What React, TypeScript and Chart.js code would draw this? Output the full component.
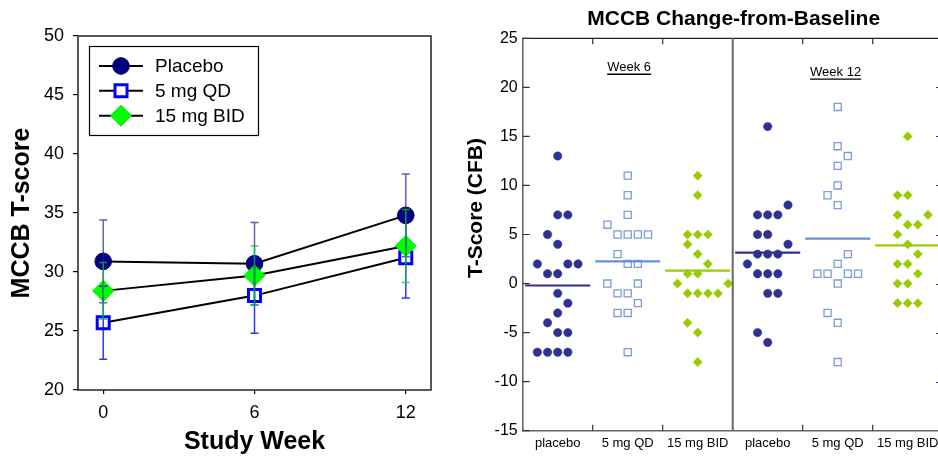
import React, { useEffect, useRef } from "react";
import { Chart, registerables } from "chart.js";

Chart.register(...registerables);
Chart.defaults.font.family = "'Liberation Sans', Arial, Helvetica, sans-serif";

// ---------- Left panel: mean T-score by study week ----------
const weeks = [0, 6, 12];
const weekTicks = [0, 6, 12];
const seriesNames = ["Placebo", "5 mg QD", "15 mg BID"];
const placeboMean = [30.9, 30.7, 34.8];
const placeboErr = [3.5, 3.5, 3.5];
const qdMean = [25.7, 28.0, 31.2];
const qdErr = [3.1, 3.2, 3.4];
const bidMean = [28.4, 29.7, 32.2];
const bidErr = [2.4, 2.5, 3.1];

// ---------- Right panel: individual change-from-baseline ----------
const rightTitle = "MCCB Change-from-Baseline";
const rightYTitle = "T-Score (CFB)";
const groupLabels = ["placebo", "5 mg QD", "15 mg BID", "placebo", "5 mg QD", "15 mg BID"];
const weekLabels = ["Week 6", "Week 12"];
const cfbTicks = [-15, -10, -5, 0, 5, 10, 15, 20, 25];

const w6Placebo = [13, 7, 7, 5, 4, 2, 2, 2, 1, 1, -1, -2, -3, -4, -5, -5, -7, -7, -7, -7];
const w6PlaceboSlot = [0, 0, 1, -1, 0, -2, 1, 2, -1, 0, 0, 1, 0, -1, 0, 1, -2, -1, 0, 1];
const w6QD = [11, 9, 7, 6, 5, 5, 5, 5, 3, 2, 2, 0, 0, -1, -1, -2, -3, -3, -7];
const w6QDSlot = [0, 0, 0, -2, -1, 0, 1, 2, -1, 0, 1, -2, 1, -1, 0, 1, -1, 0, 0];
const w6BID = [11, 9, 5, 5, 5, 4, 3, 2, 1, 1, 0, 0, -1, -1, -1, -1, -4, -5, -8];
const w6BIDSlot = [0, 0, -1, 0, 1, -1, 0, 1, -1, 0, -2, 3, -1, 0, 1, 2, -1, 0, 0];
const w12Placebo = [16, 8, 7, 7, 7, 5, 5, 4, 3, 3, 3, 2, 1, 1, 1, -1, -1, -5, -6];
const w12PlaceboSlot = [0, 2, -1, 0, 1, -1, 0, 2, -1, 0, 1, -2, -1, 0, 1, 0, 1, -1, 0];
const w12QD = [18, 14, 13, 12, 10, 9, 8, 3, 2, 1, 1, 1, 1, 0, -3, -4, -8];
const w12QDSlot = [0, 0, 1, 0, 0, -1, 0, 1, 0, -2, -1, 1, 2, 0, -1, 0, 0];
const w12BID = [15, 9, 9, 7, 7, 6, 6, 5, 4, 3, 2, 2, 1, 0, 0, -2, -2, -2];
const w12BIDSlot = [0, -1, 0, -1, 2, 0, 1, -1, 0, 1, -1, 0, 1, -1, 0, -1, 0, 1];

const SLOT_STEP = 0.145;
const MEAN_HALF = 0.465;

const avg = (a: number[]) => a.reduce((s, v) => s + v, 0) / a.length;

// ---------- plugins ----------
const errorBarPlugin = {
  id: "errorBars",
  afterDatasetsDraw(chart: any) {
    const { ctx, scales } = chart;
    const x = scales.x, y = scales.y;
    ctx.save();
    chart.data.datasets.forEach((ds: any) => {
      ctx.strokeStyle = ds.errColor;
      ctx.lineWidth = 1.5;
      ds.data.forEach((p: any, i: number) => {
        const e = ds.errors[i];
        const px = x.getPixelForValue(p.x);
        const top = y.getPixelForValue(p.y + e);
        const bot = y.getPixelForValue(p.y - e);
        ctx.beginPath();
        ctx.moveTo(px, top); ctx.lineTo(px, bot);
        ctx.moveTo(px - 4, top); ctx.lineTo(px + 4, top);
        ctx.moveTo(px - 4, bot); ctx.lineTo(px + 4, bot);
        ctx.stroke();
      });
    });
    ctx.restore();
  },
};

function drawMarker(ctx: CanvasRenderingContext2D, ds: any, cx: number, cy: number) {
  const r = ds.pointRadius;
  ctx.fillStyle = ds.pointBackgroundColor;
  ctx.strokeStyle = ds.pointBorderColor;
  ctx.lineWidth = ds.pointBorderWidth;
  ctx.beginPath();
  if (ds.pointStyle === "circle") {
    ctx.arc(cx, cy, r, 0, Math.PI * 2);
  } else if (ds.pointStyle === "rect") {
    const s = r * Math.SQRT1_2;
    ctx.rect(cx - s, cy - s, 2 * s, 2 * s);
  } else {
    ctx.moveTo(cx, cy - r); ctx.lineTo(cx + r, cy); ctx.lineTo(cx, cy + r); ctx.lineTo(cx - r, cy); ctx.closePath();
  }
  ctx.fill();
  ctx.stroke();
}

const leftDecorPlugin = {
  id: "leftDecor",
  afterDraw(chart: any) {
    const { ctx, chartArea: ca } = chart;
    ctx.save();
    ctx.strokeStyle = "#222";
    ctx.lineWidth = 1.5;
    ctx.strokeRect(ca.left, ca.top, ca.right - ca.left, ca.bottom - ca.top);
    // legend
    const bx = 89.5, by = 46.5, bw = 169, bh = 89;
    ctx.fillStyle = "#fff";
    ctx.fillRect(bx, by, bw, bh);
    ctx.strokeStyle = "#000";
    ctx.lineWidth = 1.2;
    ctx.strokeRect(bx, by, bw, bh);
    const rows = [66, 90.7, 115.7];
    chart.data.datasets.forEach((ds: any, i: number) => {
      const ry = rows[i];
      ctx.strokeStyle = "#000";
      ctx.lineWidth = 2;
      ctx.beginPath();
      ctx.moveTo(99, ry); ctx.lineTo(143, ry);
      ctx.stroke();
      drawMarker(ctx, ds, 121, ry);
      ctx.fillStyle = "#000";
      ctx.font = "19px 'Liberation Sans', Arial, sans-serif";
      ctx.textAlign = "left";
      ctx.textBaseline = "middle";
      ctx.fillText(ds.label, 155, ry + 1);
    });
    ctx.restore();
  },
};

const rightDecorPlugin = {
  id: "rightDecor",
  afterDraw(chart: any) {
    const { ctx, chartArea: ca, scales } = chart;
    const x = scales.x, y = scales.y;
    ctx.save();
    // top border
    ctx.strokeStyle = "#222";
    ctx.lineWidth = 1.2;
    ctx.beginPath();
    ctx.moveTo(ca.left, ca.top); ctx.lineTo(ca.right, ca.top);
    ctx.stroke();
    // week separator
    const sx = x.getPixelForValue(2.5);
    ctx.strokeStyle = "#666";
    ctx.lineWidth = 2;
    ctx.beginPath();
    ctx.moveTo(sx, ca.top); ctx.lineTo(sx, ca.bottom);
    ctx.stroke();
    // inward category ticks
    ctx.strokeStyle = "#333";
    ctx.lineWidth = 1.2;
    ctx.beginPath();
    [0.5, 1.5, 3.5, 4.5].forEach((b) => {
      const px = x.getPixelForValue(b);
      ctx.moveTo(px, ca.top); ctx.lineTo(px, ca.top + 6);
      ctx.moveTo(px, ca.bottom); ctx.lineTo(px, ca.bottom - 6);
    });
    // inward y ticks
    y.ticks.forEach((t: any) => {
      const py = y.getPixelForValue(t.value);
      ctx.moveTo(ca.left, py); ctx.lineTo(ca.left + 7, py);
    });
    ctx.stroke();
    // next-panel tick stubs at right edge
    ctx.strokeStyle = "#3030c0";
    ctx.lineWidth = 1;
    ctx.beginPath();
    [20, 15, 10, 5, 0, -5, -10].forEach((v) => {
      const py = Math.round(y.getPixelForValue(v)) + 0.5;
      ctx.moveTo(481, py); ctx.lineTo(484, py);
    });
    ctx.stroke();
    // week labels
    ctx.fillStyle = "#000";
    ctx.font = "13px 'Liberation Sans', Arial, sans-serif";
    ctx.textAlign = "center";
    ctx.textBaseline = "middle";
    const wl = [
      { t: weekLabels[0], xv: 1.02, yv: 22 },
      { t: weekLabels[1], xv: 3.97, yv: 21.5 },
    ];
    wl.forEach((w) => {
      const px = x.getPixelForValue(w.xv);
      const py = y.getPixelForValue(w.yv);
      ctx.fillText(w.t, px, py);
      const tw = ctx.measureText(w.t).width;
      ctx.strokeStyle = "#000";
      ctx.lineWidth = 1.3;
      ctx.beginPath();
      ctx.moveTo(px - tw / 2, py + 6.5); ctx.lineTo(px + tw / 2, py + 6.5);
      ctx.stroke();
    });
    // chart title
    ctx.font = "bold 21px 'Liberation Sans', Arial, sans-serif";
    ctx.fillText(rightTitle, 278.7, 19);
    // y title
    ctx.save();
    ctx.translate(21, 208);
    ctx.rotate(-Math.PI / 2);
    ctx.font = "bold 21px 'Liberation Sans', Arial, sans-serif";
    ctx.fillText(rightYTitle, 0, 0);
    ctx.restore();
    ctx.restore();
  },
};

export default function App() {
  const leftRef = useRef<HTMLCanvasElement>(null);
  const rightRef = useRef<HTMLCanvasElement>(null);

  useEffect(() => {
    const mk = (means: number[]) => means.map((m, i) => ({ x: weeks[i], y: m }));
    const left = new Chart(leftRef.current as HTMLCanvasElement, {
      type: "line",
      data: {
        datasets: [
          {
            label: seriesNames[0], data: mk(placeboMean), errors: placeboErr, errColor: "rgba(30,30,150,0.7)",
            borderColor: "#000", borderWidth: 2, pointStyle: "circle", pointRadius: 8.3,
            pointBackgroundColor: "#000080", pointBorderColor: "#00005a", pointBorderWidth: 1, order: 1,
          },
          {
            label: seriesNames[1], data: mk(qdMean), errors: qdErr, errColor: "rgba(0,0,255,0.8)",
            borderColor: "#000", borderWidth: 2, pointStyle: "rect", pointRadius: 8.5,
            pointBackgroundColor: "#ffffff", pointBorderColor: "#0000ff", pointBorderWidth: 3, order: 2,
          },
          {
            label: seriesNames[2], data: mk(bidMean), errors: bidErr, errColor: "rgba(0,200,40,0.75)",
            borderColor: "#000", borderWidth: 2, pointStyle: "rectRot", pointRadius: 10.5,
            pointBackgroundColor: "#00ff00", pointBorderColor: "#00e000", pointBorderWidth: 1, order: 0,
          },
        ] as any,
      },
      options: {
        responsive: false,
        animation: false,
        layout: { padding: { left: 0, right: 39, top: 36, bottom: 0 } },
        plugins: { legend: { display: false }, tooltip: { enabled: false } },
        scales: {
          x: {
            type: "linear", min: -1, max: 13,
            afterBuildTicks: (s: any) => { s.ticks = weekTicks.map((v) => ({ value: v })); },
            afterFit: (s: any) => { s.height = 67; },
            ticks: { font: { size: 18 }, color: "#000", padding: 8, autoSkip: false, maxRotation: 0 },
            grid: { display: true, drawOnChartArea: false, drawTicks: true, tickLength: 4, color: "#000", lineWidth: 1.2 },
            border: { display: false },
            title: { display: true, text: "Study Week", color: "#000", font: { size: 25, weight: "bold" }, padding: { top: 0, bottom: 0 } },
          },
          y: {
            type: "linear", min: 20, max: 50,
            afterFit: (s: any) => { s.width = 78; },
            ticks: { stepSize: 5, font: { size: 18 }, color: "#000", padding: 9 },
            grid: { display: true, drawOnChartArea: false, drawTicks: true, tickLength: 5, color: "#000", lineWidth: 1.2 },
            border: { display: false },
            title: { display: true, text: "MCCB T-score", color: "#000", font: { size: 25, weight: "bold" }, padding: { top: 7, bottom: 0 } },
          },
        },
      } as any,
      plugins: [errorBarPlugin, leftDecorPlugin],
    });

    const groups = [
      { v: w6Placebo, s: w6PlaceboSlot, k: 0 },
      { v: w6QD, s: w6QDSlot, k: 1 },
      { v: w6BID, s: w6BIDSlot, k: 2 },
      { v: w12Placebo, s: w12PlaceboSlot, k: 0 },
      { v: w12QD, s: w12QDSlot, k: 1 },
      { v: w12BID, s: w12BIDSlot, k: 2 },
    ];
    const pointStyles = [
      { pointStyle: "circle", pointRadius: 4.2, pointBackgroundColor: "#2e3192", pointBorderColor: "#2e3192", pointBorderWidth: 0.5 },
      { pointStyle: "rect", pointRadius: 5, pointBackgroundColor: "rgba(255,255,255,0)", pointBorderColor: "#7b9bd9", pointBorderWidth: 1.3 },
      { pointStyle: "rectRot", pointRadius: 4.6, pointBackgroundColor: "#99cc00", pointBorderColor: "#99cc00", pointBorderWidth: 0.5 },
    ];
    const meanColors = ["#2e3192", "#6690d6", "#99cc00"];
    const datasets: any[] = [];
    groups.forEach((g, gi) => {
      datasets.push({
        label: groupLabels[gi],
        data: g.v.map((val, j) => ({ x: gi + g.s[j] * SLOT_STEP, y: val })),
        showLine: false,
        ...pointStyles[g.k],
        order: 1,
      });
      const m = avg(g.v);
      datasets.push({
        label: groupLabels[gi] + " mean",
        data: [{ x: gi - MEAN_HALF, y: m }, { x: gi + MEAN_HALF, y: m }],
        showLine: true,
        borderColor: meanColors[g.k],
        borderWidth: 2.2,
        pointRadius: 0,
        order: 0,
      });
    });

    const right = new Chart(rightRef.current as HTMLCanvasElement, {
      type: "scatter",
      data: { datasets },
      options: {
        responsive: false,
        animation: false,
        layout: { padding: { left: 0, right: 69.3, top: 38.3, bottom: 0 } },
        plugins: {
          legend: { display: false },
          tooltip: { enabled: false },
          title: { display: false },
        },
        scales: {
          x: {
            type: "linear", min: -0.5, max: 5.5,
            afterBuildTicks: (s: any) => { s.ticks = groupLabels.map((_, i) => ({ value: i })); },
            afterFit: (s: any) => { s.height = 26.3; },
            ticks: {
              font: { size: 13 }, color: "#000", padding: 5, autoSkip: false, maxRotation: 0,
              callback: (v: any) => groupLabels[Math.round(v)] ?? "",
            },
            grid: { display: true, drawOnChartArea: false, drawTicks: false },
            border: { display: true, color: "#666", width: 1.6 },
          },
          y: {
            type: "linear", min: -15, max: 25,
            afterBuildTicks: (s: any) => { s.ticks = cfbTicks.map((v) => ({ value: v })); },
            afterFit: (s: any) => { s.width = 67.7; },
            ticks: { font: { size: 16 }, color: "#000", padding: 5 },
            grid: { display: true, drawOnChartArea: false, drawTicks: false },
            border: { display: true, color: "#666", width: 1.6 },
          },
        },
      } as any,
      plugins: [rightDecorPlugin],
    });

    return () => {
      left.destroy();
      right.destroy();
    };
  }, []);

  return (
    <div style={{ position: "fixed", left: 0, top: 0, width: 938, height: 457, overflow: "hidden", background: "#fff" }}>
      <canvas ref={leftRef} width={470} height={457} style={{ position: "absolute", left: 0, top: 0, width: 470, height: 457 }} />
      <canvas ref={rightRef} width={557} height={457} style={{ position: "absolute", left: 455, top: 0, width: 557, height: 457 }} />
    </div>
  );
}
